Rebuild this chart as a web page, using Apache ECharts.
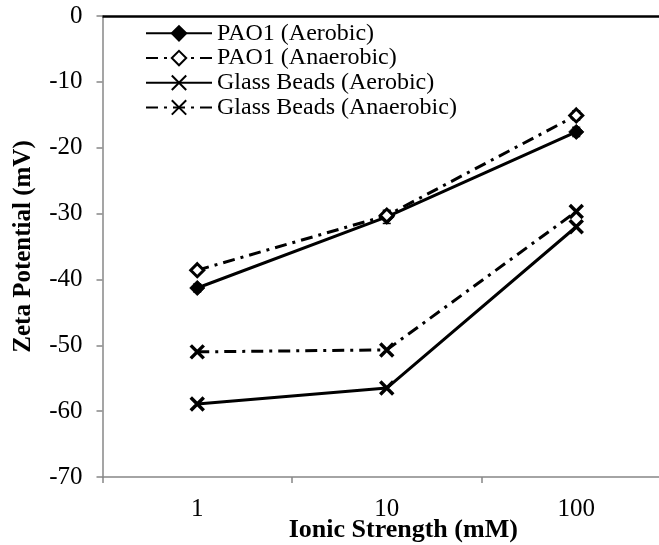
<!DOCTYPE html>
<html>
<head>
<meta charset="utf-8">
<script src="https://cdn.jsdelivr.net/npm/echarts@6/dist/echarts.min.js"></script>
<style>
  html, body { margin: 0; padding: 0; background: #fff; }
  #chart { width: 659px; height: 545px; }
</style>
</head>
<body>
<div id="chart"></div>
<script>
// Ionic strength categories (mM)
const categories = ['1', '10', '100'];

// Zeta potential (mV)
const pao1Aerobic = [-41.3, -30.5, -17.6];
const pao1Anaerobic = [-38.6, -30.3, -15.1];
const glassAerobic = [-58.9, -56.5, -32.0];
const glassAnaerobic = [-51.0, -50.7, -29.7];

// Standard deviations for PAO1 measurements (mV)
const pao1AerobicErr = [0.6, 1.0, 0.7];
const pao1AnaerobicErr = [0.4, 0.6, 0.7];

const yTicks = [-70, -60, -50, -40, -30, -20, -10, 0];

const FONT = '"Liberation Serif", "Times New Roman", serif';
const crossPath = 'path://M0,0L10,10M10,0L0,10';
const dashDot = [12, 6, 3, 6];

function errorSeries(values, errs) {
  return {
    type: 'custom',
    silent: true,
    z: 1,
    data: values.map((v, i) => [i, v - errs[i], v + errs[i]]),
    renderItem: function (params, api) {
      const lo = api.coord([api.value(0), api.value(1)]);
      const hi = api.coord([api.value(0), api.value(2)]);
      const cap = 4;
      const st = { stroke: '#000', lineWidth: 1.5 };
      return {
        type: 'group',
        children: [
          { type: 'line', shape: { x1: lo[0], y1: lo[1], x2: hi[0], y2: hi[1] }, style: st },
          { type: 'line', shape: { x1: lo[0] - cap, y1: lo[1], x2: lo[0] + cap, y2: lo[1] }, style: st },
          { type: 'line', shape: { x1: hi[0] - cap, y1: hi[1], x2: hi[0] + cap, y2: hi[1] }, style: st }
        ]
      };
    }
  };
}

const chart = echarts.init(document.getElementById('chart'), null, { renderer: 'canvas' });

chart.setOption({
  animation: false,
  backgroundColor: '#ffffff',
  textStyle: { fontFamily: FONT, color: '#000' },
  // plot area runs slightly past the right edge of the canvas
  grid: {
    left: 102.5, top: 16, width: 568.5, bottom: 68,
    containLabel: false,
    outerBoundsMode: 'none'
  },
  legend: {
    orient: 'vertical',
    left: 140,
    top: 16,
    itemWidth: 66,
    itemHeight: 18,
    itemGap: 0,
    textStyle: { fontFamily: FONT, fontSize: 24, color: '#000', lineHeight: 24.7 },
    data: ['PAO1 (Aerobic)', 'PAO1 (Anaerobic)', 'Glass Beads (Aerobic)', 'Glass Beads (Anaerobic)']
  },
  xAxis: {
    type: 'category',
    data: categories,
    boundaryGap: true,
    position: 'bottom',
    axisLine: { onZero: false, lineStyle: { color: '#878787', width: 1.5 } },
    axisTick: { show: true, length: 6, lineStyle: { color: '#878787', width: 1.5 } },
    axisLabel: { fontFamily: FONT, fontSize: 25, color: '#000', margin: 20 },
    name: 'Ionic Strength (mM)',
    nameLocation: 'middle',
    nameGap: 40,
    nameMoveOverlap: false,
    nameTextStyle: { fontFamily: FONT, fontSize: 26, fontWeight: 'bold', color: '#000', padding: [0, 0, 0, 33] },
    splitLine: { show: false }
  },
  yAxis: {
    type: 'value',
    min: yTicks[0],
    max: yTicks[yTicks.length - 1],
    interval: 10,
    axisLine: { show: true, onZero: false, lineStyle: { color: '#878787', width: 1.5 } },
    axisTick: { show: true, length: 6, lineStyle: { color: '#878787', width: 1.5 } },
    axisLabel: { fontFamily: FONT, fontSize: 25, color: '#000', margin: 20 },
    splitLine: { show: false },
    name: 'Zeta Potential (mV)',
    nameLocation: 'middle',
    nameGap: 66,
    nameRotate: 90,
    nameMoveOverlap: false,
    nameTextStyle: { fontFamily: FONT, fontSize: 25, fontWeight: 'bold', color: '#000' }
  },
  series: [
    errorSeries(pao1Aerobic, pao1AerobicErr),
    errorSeries(pao1Anaerobic, pao1AnaerobicErr),
    {
      name: 'PAO1 (Aerobic)',
      type: 'line',
      data: pao1Aerobic,
      symbol: 'diamond',
      symbolSize: 15,
      z: 3,
      lineStyle: { color: '#000', width: 3, type: 'solid' },
      itemStyle: { color: '#000', borderColor: '#000', borderWidth: 1 },
      // bold reference line along 0 mV at the top of the plot
      markLine: {
        silent: true,
        symbol: ['none', 'none'],
        label: { show: false },
        lineStyle: { color: '#000', width: 2.5, type: 'solid' },
        data: [{ yAxis: 0 }]
      }
    },
    {
      name: 'PAO1 (Anaerobic)',
      type: 'line',
      data: pao1Anaerobic,
      symbol: 'diamond',
      symbolSize: 13,
      z: 4,
      lineStyle: { color: '#000', width: 3, type: dashDot },
      itemStyle: { color: '#fff', borderColor: '#000', borderWidth: 3 }
    },
    {
      name: 'Glass Beads (Aerobic)',
      type: 'line',
      data: glassAerobic,
      symbol: crossPath,
      symbolSize: 13,
      z: 3,
      lineStyle: { color: '#000', width: 3, type: 'solid' },
      itemStyle: { color: 'none', borderColor: '#000', borderWidth: 3.5 }
    },
    {
      name: 'Glass Beads (Anaerobic)',
      type: 'line',
      data: glassAnaerobic,
      symbol: crossPath,
      symbolSize: 13,
      z: 3,
      lineStyle: { color: '#000', width: 3, type: dashDot },
      itemStyle: { color: 'none', borderColor: '#000', borderWidth: 3.5 }
    }
  ]
});
</script>
</body>
</html>
